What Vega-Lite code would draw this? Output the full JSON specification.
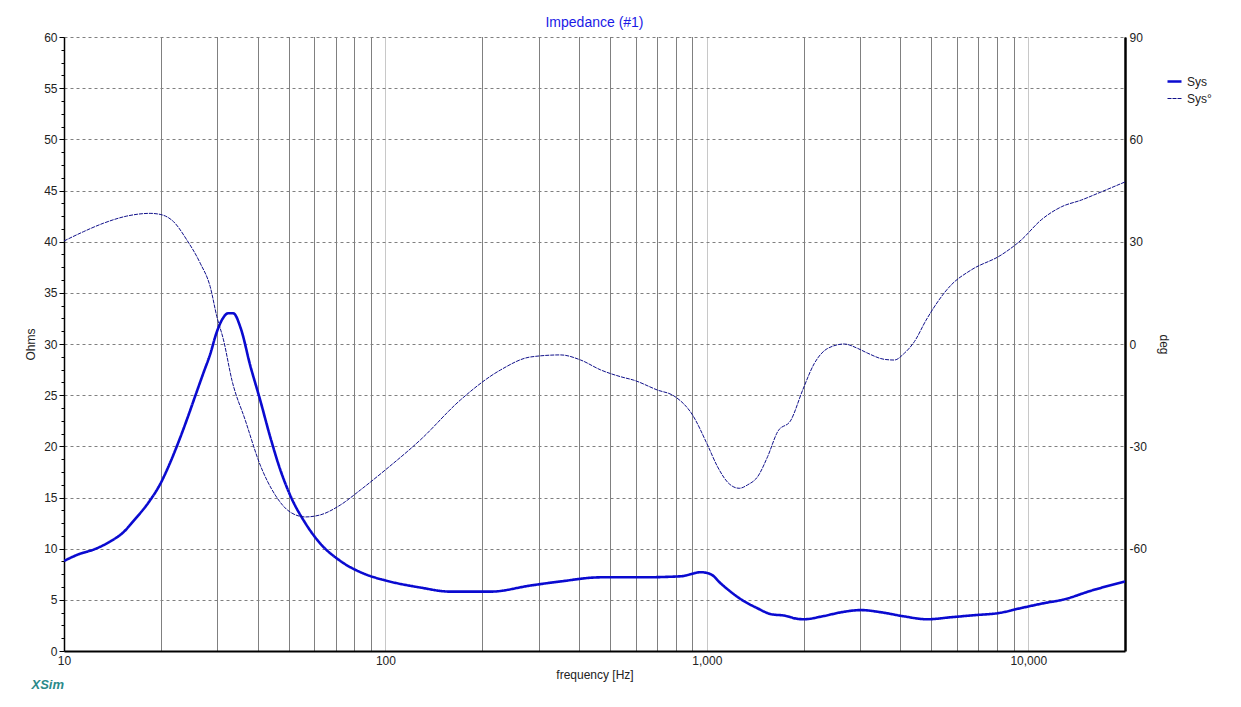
{
  "$schema": "https://vega.github.io/schema/vega-lite/v6.json",
  "width": 1061,
  "height": 614,
  "autosize": {"type": "none"},
  "padding": {"left": 64, "top": 37, "right": 116, "bottom": 56},
  "background": "white",
  "config": {
    "view": {"stroke": null},
    "font": "Liberation Sans",
    "axis": {"labelFont": "Liberation Sans", "titleFont": "Liberation Sans", "labelFontSize": 12, "titleFontSize": 12, "labelColor": "#222", "titleColor": "#222", "titleFontWeight": "normal", "labelOverlap": false}
  },
  "title": {"text": "Impedance (#1)", "fontSize": 14, "fontWeight": "normal", "color": "#1a1ae6", "font": "Liberation Sans", "offset": 1, "anchor": "middle"},
  "datasets": {
    "mag": [
      {"f": 10, "ohm": 8.8, "series": "Sys"},
      {"f": 11.21, "ohm": 9.5, "series": "Sys"},
      {"f": 12.34, "ohm": 9.9, "series": "Sys"},
      {"f": 13.91, "ohm": 10.7, "series": "Sys"},
      {"f": 15.3, "ohm": 11.6, "series": "Sys"},
      {"f": 16.44, "ohm": 12.7, "series": "Sys"},
      {"f": 18.31, "ohm": 14.5, "series": "Sys"},
      {"f": 19.91, "ohm": 16.3, "series": "Sys"},
      {"f": 21.39, "ohm": 18.4, "series": "Sys"},
      {"f": 22.44, "ohm": 20.0, "series": "Sys"},
      {"f": 24.11, "ohm": 22.6, "series": "Sys"},
      {"f": 25.59, "ohm": 24.9, "series": "Sys"},
      {"f": 27.17, "ohm": 27.2, "series": "Sys"},
      {"f": 28.5, "ohm": 29.0, "series": "Sys"},
      {"f": 29.75, "ohm": 31.0, "series": "Sys"},
      {"f": 31.06, "ohm": 32.4, "series": "Sys"},
      {"f": 32.42, "ohm": 33.0, "series": "Sys"},
      {"f": 33.62, "ohm": 33.0, "series": "Sys"},
      {"f": 35.5, "ohm": 31.5, "series": "Sys"},
      {"f": 37.97, "ohm": 27.9, "series": "Sys"},
      {"f": 40.79, "ohm": 24.5, "series": "Sys"},
      {"f": 43.83, "ohm": 20.9, "series": "Sys"},
      {"f": 47.1, "ohm": 17.7, "series": "Sys"},
      {"f": 50.58, "ohm": 15.2, "series": "Sys"},
      {"f": 56.33, "ohm": 12.5, "series": "Sys"},
      {"f": 62.73, "ohm": 10.5, "series": "Sys"},
      {"f": 72.41, "ohm": 8.8, "series": "Sys"},
      {"f": 86.64, "ohm": 7.5, "series": "Sys"},
      {"f": 100, "ohm": 6.9, "series": "Sys"},
      {"f": 128.5, "ohm": 6.2, "series": "Sys"},
      {"f": 159.4, "ohm": 5.8, "series": "Sys"},
      {"f": 212.4, "ohm": 5.8, "series": "Sys"},
      {"f": 282.9, "ohm": 6.4, "series": "Sys"},
      {"f": 351, "ohm": 6.8, "series": "Sys"},
      {"f": 467.5, "ohm": 7.2, "series": "Sys"},
      {"f": 622.8, "ohm": 7.2, "series": "Sys"},
      {"f": 829.8, "ohm": 7.3, "series": "Sys"},
      {"f": 957.9, "ohm": 7.7, "series": "Sys"},
      {"f": 1029, "ohm": 7.5, "series": "Sys"},
      {"f": 1105, "ohm": 6.6, "series": "Sys"},
      {"f": 1285, "ohm": 5.0, "series": "Sys"},
      {"f": 1432, "ohm": 4.2, "series": "Sys"},
      {"f": 1583, "ohm": 3.6, "series": "Sys"},
      {"f": 1750, "ohm": 3.45, "series": "Sys"},
      {"f": 1908, "ohm": 3.15, "series": "Sys"},
      {"f": 2006, "ohm": 3.1, "series": "Sys"},
      {"f": 2298, "ohm": 3.4, "series": "Sys"},
      {"f": 2634, "ohm": 3.8, "series": "Sys"},
      {"f": 3019, "ohm": 4.0, "series": "Sys"},
      {"f": 3459, "ohm": 3.8, "series": "Sys"},
      {"f": 4080, "ohm": 3.4, "series": "Sys"},
      {"f": 4846, "ohm": 3.1, "series": "Sys"},
      {"f": 5756, "ohm": 3.3, "series": "Sys"},
      {"f": 6788, "ohm": 3.5, "series": "Sys"},
      {"f": 8063, "ohm": 3.7, "series": "Sys"},
      {"f": 9511, "ohm": 4.2, "series": "Sys"},
      {"f": 11298, "ohm": 4.7, "series": "Sys"},
      {"f": 12762, "ohm": 5.0, "series": "Sys"},
      {"f": 15719, "ohm": 5.9, "series": "Sys"},
      {"f": 20000, "ohm": 6.8, "series": "Sys"}
    ],
    "phase": [
      {"f": 10, "deg": 30.2, "series": "Sys°"},
      {"f": 11.48, "deg": 32.9, "series": "Sys°"},
      {"f": 13.26, "deg": 35.4, "series": "Sys°"},
      {"f": 15.68, "deg": 37.5, "series": "Sys°"},
      {"f": 18.53, "deg": 38.3, "series": "Sys°"},
      {"f": 19.91, "deg": 38.0, "series": "Sys°"},
      {"f": 21.9, "deg": 35.9, "series": "Sys°"},
      {"f": 24.11, "deg": 30.5, "series": "Sys°"},
      {"f": 26.53, "deg": 23.7, "series": "Sys°"},
      {"f": 28.5, "deg": 16.8, "series": "Sys°"},
      {"f": 29.9, "deg": 8.0, "series": "Sys°"},
      {"f": 31.35, "deg": 1.2, "series": "Sys°"},
      {"f": 33.3, "deg": -10.6, "series": "Sys°"},
      {"f": 36.63, "deg": -22.3, "series": "Sys°"},
      {"f": 40.79, "deg": -35.5, "series": "Sys°"},
      {"f": 45.43, "deg": -44.3, "series": "Sys°"},
      {"f": 50.58, "deg": -49.3, "series": "Sys°"},
      {"f": 56.33, "deg": -50.7, "series": "Sys°"},
      {"f": 62.73, "deg": -50.1, "series": "Sys°"},
      {"f": 72.41, "deg": -47.2, "series": "Sys°"},
      {"f": 83.58, "deg": -42.8, "series": "Sys°"},
      {"f": 100, "deg": -36.9, "series": "Sys°"},
      {"f": 128.5, "deg": -28.1, "series": "Sys°"},
      {"f": 171.2, "deg": -16.4, "series": "Sys°"},
      {"f": 228.2, "deg": -7.6, "series": "Sys°"},
      {"f": 282.9, "deg": -3.8, "series": "Sys°"},
      {"f": 351, "deg": -3.2, "series": "Sys°"},
      {"f": 405.1, "deg": -4.7, "series": "Sys°"},
      {"f": 467.5, "deg": -7.6, "series": "Sys°"},
      {"f": 539.8, "deg": -9.6, "series": "Sys°"},
      {"f": 592.5, "deg": -10.6, "series": "Sys°"},
      {"f": 702.2, "deg": -13.5, "series": "Sys°"},
      {"f": 789.5, "deg": -15.2, "series": "Sys°"},
      {"f": 902.6, "deg": -20.8, "series": "Sys°"},
      {"f": 1005, "deg": -29.6, "series": "Sys°"},
      {"f": 1080, "deg": -36.0, "series": "Sys°"},
      {"f": 1174, "deg": -41.0, "series": "Sys°"},
      {"f": 1261, "deg": -42.3, "series": "Sys°"},
      {"f": 1339, "deg": -41.3, "series": "Sys°"},
      {"f": 1439, "deg": -38.9, "series": "Sys°"},
      {"f": 1546, "deg": -33.0, "series": "Sys°"},
      {"f": 1661, "deg": -25.7, "series": "Sys°"},
      {"f": 1827, "deg": -22.3, "series": "Sys°"},
      {"f": 1987, "deg": -13.5, "series": "Sys°"},
      {"f": 2160, "deg": -5.7, "series": "Sys°"},
      {"f": 2377, "deg": -1.3, "series": "Sys°"},
      {"f": 2677, "deg": 0.0, "series": "Sys°"},
      {"f": 2948, "deg": -1.3, "series": "Sys°"},
      {"f": 3167, "deg": -2.7, "series": "Sys°"},
      {"f": 3567, "deg": -4.5, "series": "Sys°"},
      {"f": 3832, "deg": -4.7, "series": "Sys°"},
      {"f": 4117, "deg": -2.7, "series": "Sys°"},
      {"f": 4424, "deg": 0.7, "series": "Sys°"},
      {"f": 4811, "deg": 7.0, "series": "Sys°"},
      {"f": 5756, "deg": 17.3, "series": "Sys°"},
      {"f": 6643, "deg": 21.7, "series": "Sys°"},
      {"f": 8240, "deg": 26.1, "series": "Sys°"},
      {"f": 9511, "deg": 30.5, "series": "Sys°"},
      {"f": 10978, "deg": 36.4, "series": "Sys°"},
      {"f": 12669, "deg": 40.2, "series": "Sys°"},
      {"f": 14626, "deg": 42.2, "series": "Sys°"},
      {"f": 16881, "deg": 44.6, "series": "Sys°"},
      {"f": 20000, "deg": 47.5, "series": "Sys°"}
    ]
  },
  "layer": [
    {
      "data": {"name": "mag"},
      "mark": {"type": "line", "interpolate": "monotone", "clip": true},
      "encoding": {
        "x": {
          "field": "f", "type": "quantitative",
          "scale": {"type": "log", "domain": [10, 20000], "nice": false},
          "axis": {
            "title": "frequency [Hz]", "titlePadding": 3,
            "values": [10,20,30,40,50,60,70,80,90,100,200,300,400,500,600,700,800,900,1000,2000,3000,4000,5000,6000,7000,8000,9000,10000,20000],
            "labelExpr": "indexof([10,100,1000,10000], datum.value) >= 0 ? format(datum.value, ',') : ''",
            "labelFlush": false,
            "ticks": false, "labelPadding": 4,
            "domainColor": "black", "domainWidth": 2,
            "grid": true,
            "gridColor": {"condition": {"test": "indexof([10,100,1000,10000], datum.value) >= 0", "value": "#909090"}, "value": "#000000"},
            "gridDash": [1, 1], "gridWidth": 1
          }
        },
        "y": {
          "field": "ohm", "type": "quantitative",
          "scale": {"domain": [0, 60], "nice": false, "zero": false},
          "axis": {
            "title": "Ohms", "titlePadding": 6,
            "values": [0,1.25,2.5,3.75,5,6.25,7.5,8.75,10,11.25,12.5,13.75,15,16.25,17.5,18.75,20,21.25,22.5,23.75,25,26.25,27.5,28.75,30,31.25,32.5,33.75,35,36.25,37.5,38.75,40,41.25,42.5,43.75,45,46.25,47.5,48.75,50,51.25,52.5,53.75,55,56.25,57.5,58.75,60],
            "labelExpr": "datum.value % 5 === 0 ? datum.value : ''",
            "tickSize": {"condition": {"test": "datum.value % 5 === 0", "value": 5}, "value": 3},
            "tickColor": "black", "labelPadding": 2,
            "domainColor": "black", "domainWidth": 1.5,
            "grid": true, "gridColor": "#808080", "gridDash": [3, 3],
            "gridOpacity": {"condition": {"test": "datum.value % 5 === 0", "value": 1}, "value": 0}
          }
        },
        "color": {"field": "series", "type": "nominal", "scale": {"domain": ["Sys", "Sys°"], "range": ["#0a0ad0", "#10108a"]},
          "legend": {"orient": "none", "legendX": 1102, "legendY": 36, "title": null, "symbolType": "stroke", "symbolSize": 196, "labelFontSize": 12, "labelFont": "Liberation Sans", "labelColor": "#222", "rowPadding": 3, "labelOffset": 4}},
        "strokeDash": {"field": "series", "type": "nominal", "scale": {"domain": ["Sys", "Sys°"], "range": [[1, 0], [4, 1]]}},
        "strokeWidth": {"field": "series", "type": "nominal", "scale": {"domain": ["Sys", "Sys°"], "range": [2.6, 1]}}
      }
    },
    {
      "data": {"name": "phase"},
      "mark": {"type": "line", "interpolate": "monotone", "clip": true},
      "encoding": {
        "x": {"field": "f", "type": "quantitative"},
        "y": {
          "field": "deg", "type": "quantitative",
          "scale": {"domain": [-90, 90], "nice": false, "zero": false},
          "axis": {
            "orient": "right", "title": "deg", "titlePadding": 10,
            "values": [-90, -60, -30, 0, 30, 60, 90],
            "labelExpr": "datum.value === -90 ? '' : datum.value",
            "ticks": false, "labelPadding": 4,
            "domainColor": "black", "domainWidth": 2.5,
            "grid": false
          }
        },
        "color": {"field": "series", "type": "nominal"},
        "strokeDash": {"field": "series", "type": "nominal"},
        "strokeWidth": {"field": "series", "type": "nominal"}
      }
    },
    {
      "data": {"values": [{"label": "XSim"}]},
      "mark": {"type": "text", "font": "Liberation Sans", "fontSize": 13, "fontWeight": "bold", "fontStyle": "italic", "color": "#2a8a8a", "align": "center", "baseline": "middle"},
      "encoding": {
        "x": {"datum": 8.9, "type": "quantitative"},
        "y": {"datum": -3.3, "type": "quantitative", "scale": {"domain": [0, 60], "nice": false, "zero": false}, "axis": null},
        "text": {"field": "label"}
      }
    }
  ],
  "resolve": {"scale": {"y": "independent"}}
}
